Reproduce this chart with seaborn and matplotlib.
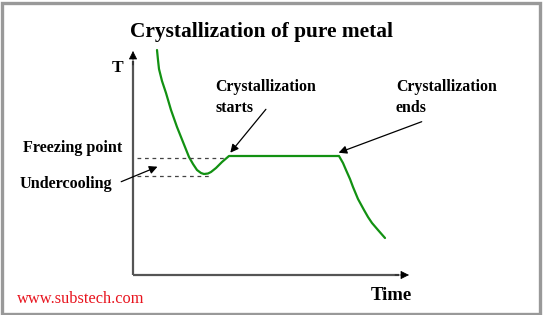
import matplotlib
matplotlib.use("Agg")
import matplotlib.pyplot as plt
import seaborn as sns
import pandas as pd
from matplotlib.patches import Rectangle

# ---- data (time / temperature in arbitrary units) ----
time = [24, 25, 26, 29, 33, 38, 44, 50, 56, 60, 64, 68, 71, 75, 78, 83, 89, 96, 206, 210, 213, 217, 220, 225, 231, 235, 239, 245, 252]
temp = [225, 215, 206, 194, 182, 165, 148, 133, 118, 111, 105, 102, 101, 101.5, 103, 107, 113, 119, 119, 112, 105, 96, 88, 76, 65, 58, 52, 45, 37]
freezing_T = 116.7
freezing_span = [4, 94]
under_T = 98.7
under_span = [4, 78]

title = "Crystallization of pure metal"
x_label = "Time"
y_label = "T"
lbl_start = "Crystallization\nstarts"
lbl_end = "Crystallization\nends"
lbl_freeze = "Freezing point"
lbl_under = "Undercooling"
credit = "www.substech.com"

sns.set_theme(style="white")
plt.rcParams['font.family'] = ['Liberation Serif', 'DejaVu Serif']

W, H = 543, 315
fig = plt.figure(figsize=(W / 100, H / 100), dpi=100)
fig.patch.set_facecolor("white")
# plot area in pixels: x 133..408, y 52..275
ax = fig.add_axes([133 / W, 40 / H, 275 / W, 223 / H])
ax.set_xlim(0, 275)
ax.set_ylim(0, 223)
ax.axis("off")

df = pd.DataFrame({"time": time, "temp": temp})
sns.lineplot(data=df, x="time", y="temp", sort=False, estimator=None,
             color="#129112", linewidth=1.6, ax=ax, clip_on=False)

# dashed reference lines
ax.plot(freezing_span, [freezing_T, freezing_T], ls=(0, (3, 3)), color="#444444", lw=0.9)
ax.plot(under_span, [under_T, under_T], ls=(0, (3, 3)), color="#444444", lw=0.9)

# axes with arrowheads
ax.plot([0, 0], [0, 214], color="#555555", lw=1.6, clip_on=False, solid_capstyle="butt")
ax.plot([0, 266], [0, 0], color="#555555", lw=1.6, clip_on=False, solid_capstyle="butt")
ax.annotate("", xy=(0, 224), xytext=(0, 210),
            arrowprops=dict(arrowstyle="-|>", color="black", lw=0.5, mutation_scale=13,
                            shrinkA=0, shrinkB=0),
            annotation_clip=False)
ax.annotate("", xy=(276, 0), xytext=(262, 0),
            arrowprops=dict(arrowstyle="-|>", color="black", lw=0.5, mutation_scale=13,
                            shrinkA=0, shrinkB=0),
            annotation_clip=False)

bold = dict(fontweight="bold", color="black")
ax.text(129, 242.7, title, ha="center", va="center", fontsize=15.4, clip_on=False, **bold)
ax.text(-16, 207, y_label, ha="center", va="center", fontsize=12.5, clip_on=False, **bold)
ax.text(258.5, -21, x_label, ha="center", va="center", fontsize=13.5, clip_on=False, **bold)
ax.text(-115.7, -24.3, credit, ha="left", va="center", fontsize=11.8, color="#e8141e", clip_on=False)

ax.text(82.4, 177.5, lbl_start, ha="left", va="center", fontsize=11.4,
        linespacing=1.35, clip_on=False, **bold)
ax.text(262.8, 177.5, lbl_end, ha="left", va="center", fontsize=11.4,
        linespacing=1.35, clip_on=False, **bold)
ax.text(-110, 127.3, lbl_freeze, ha="left", va="center", fontsize=11.6, clip_on=False, **bold)
ax.text(-113, 91, lbl_under, ha="left", va="center", fontsize=11.6, clip_on=False, **bold)

arrow = dict(arrowstyle="-|>", color="black", lw=0.9, mutation_scale=12, shrinkA=0, shrinkB=0)
ax.annotate("", xy=(97.3, 122.3), xytext=(132.9, 165.7), arrowprops=arrow, annotation_clip=False)
ax.annotate("", xy=(205.6, 122.3), xytext=(288.7, 153.3), arrowprops=arrow, annotation_clip=False)
ax.annotate("", xy=(24.5, 108.3), xytext=(-11.8, 93.3), arrowprops=arrow, annotation_clip=False)

# gray frame
fig.patches.append(Rectangle((1.5 / W, 1.5 / H), (W - 4.5) / W, (H - 4.5) / H,
                             transform=fig.transFigure, fill=False,
                             edgecolor="#999999", linewidth=2.4))

fig.savefig("out.png", dpi=100)
